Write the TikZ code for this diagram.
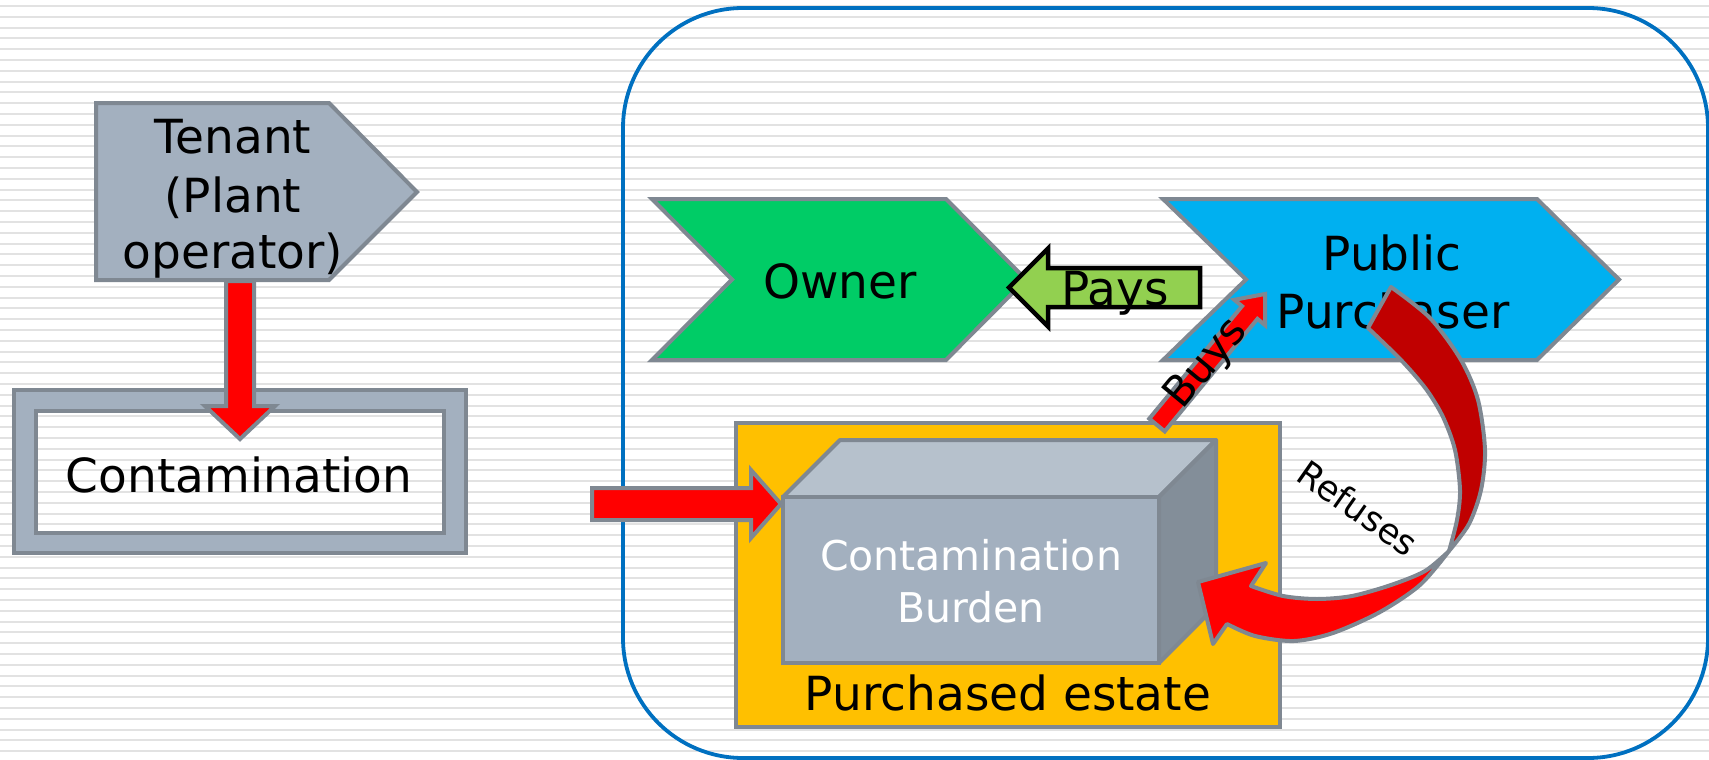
\documentclass[tikz,border=0pt]{standalone}
\usepackage{fontspec}
\setmainfont{DejaVu Sans}
\usetikzlibrary{calc}
\definecolor{bgline}{RGB}{226,226,226}
\definecolor{edgegray}{RGB}{127,136,146}
\definecolor{slate}{RGB}{163,176,191}
\definecolor{slatelight}{RGB}{182,193,204}
\definecolor{slatedark}{RGB}{131,142,153}
\definecolor{ownergreen}{RGB}{0,204,102}
\definecolor{ppblue}{RGB}{0,176,240}
\definecolor{paygreen}{RGB}{146,208,80}
\definecolor{estatecol}{RGB}{255,192,0}
\definecolor{darkredcol}{RGB}{192,0,0}
\definecolor{frameblue}{RGB}{0,112,192}
% block arrow: #1 style, #2 from, #3 to, #4 shaft half width, #5 head half width, #6 head length
\newcommand{\blockarr}[6]{%
  \coordinate (hb-#2) at ($(#3)!#6!(#2)$);
  \draw[#1] ($(#2)!#4!90:(#3)$) -- ($(hb-#2)!#4!90:(#3)$) -- ($(hb-#2)!#5!90:(#3)$) -- (#3)
    -- ($(hb-#2)!#5!-90:(#3)$) -- ($(hb-#2)!#4!-90:(#3)$) -- ($(#2)!#4!-90:(#3)$) -- cycle;
}
\begin{document}
\begin{tikzpicture}[x=1pt,y=-1pt,
  stripe/.style={bgline,line width=2pt},
  shapebox/.style={draw=edgegray,line width=4pt},
  redarrow/.style={fill=red,draw=edgegray,line width=4pt},
  payarrow/.style={fill=paygreen,draw=black,line width=4.5pt},
  txt/.style={inner sep=0pt,anchor=base,font=\fontsize{47}{56}\selectfont},
  cubetxt/.style={inner sep=0pt,anchor=base,text=white,font=\fontsize{41}{50}\selectfont}]
\useasboundingbox (0,0) rectangle (1709,760);
% background stripes
\foreach \i in {0,...,69} \draw[stripe] (0,{6+10.8*\i}) -- (1709,{6+10.8*\i});
% big frame
\draw[frameblue,line width=3.8pt,rounded corners=120pt] (623,8) rectangle (1708,758);
% contamination frame
\draw[shapebox,fill=slate,even odd rule] (14,390) rectangle (466,553) (36,411) rectangle (444,533);
\node[txt] (contam) at (239,492) {Contamination};
% tenant
\draw[shapebox,fill=slate] (96,103) -- (329,103) -- (417,192) -- (329,280) -- (96,280) -- cycle;
\node[txt] (tenant1) at (233,153) {Tenant};
\node[txt] (tenant2) at (233,212) {(Plant};
\node[txt] (tenant3) at (233,268) {operator)};
\coordinate (ta) at (240,281);
\coordinate (tb) at (240,439);
\blockarr{redarrow}{ta}{tb}{14pt}{35pt}{33pt}
% owner
\draw[shapebox,fill=ownergreen] (652,199) -- (946,199) -- (1026,279.5) -- (946,360) -- (652,360) -- (732,279.5) -- cycle;
\node[txt] (owner) at (840,298) {Owner};
% public purchaser
\draw[shapebox,fill=ppblue] (1163,199) -- (1537,199) -- (1619,279.5) -- (1537,360) -- (1163,360) -- (1246,279.5) -- cycle;
\node[txt] (pp1) at (1392,270) {Public};
\node[txt] (pp2) at (1393,328) {Purchaser};
% purchased estate
\draw[shapebox,fill=estatecol] (736,423) rectangle (1280,727);
\node[txt] (estate) at (1008,710) {Purchased estate};
% cube
\draw[shapebox,fill=slatelight,line join=round] (783,497) -- (840,440) -- (1216,440) -- (1159,497) -- cycle;
\draw[shapebox,fill=slatedark,line join=round] (1159,497) -- (1216,440) -- (1216,606) -- (1159,663) -- cycle;
\draw[shapebox,fill=slate] (783,497) rectangle (1159,663);
\node[cubetxt] (burden1) at (971,570) {Contamination};
\node[cubetxt] (burden2) at (971,622) {Burden};
% arrow into the estate
\coordinate (ia) at (592,504);
\coordinate (ib) at (781,504);
\blockarr{redarrow}{ia}{ib}{16pt}{34pt}{30pt}
% pays arrow
\coordinate (pa) at (1200,287.5);
\coordinate (pb) at (1009,287.5);
\blockarr{payarrow}{pa}{pb}{19.5pt}{39pt}{39pt}
\node[txt] (pays) at (1115,305) {Pays};
% buys arrow
\coordinate (ba) at (1157,425);
\coordinate (bb) at (1265,294);
\blockarr{redarrow}{ba}{bb}{10pt}{20pt}{24pt}
\node[inner sep=0pt,rotate=50.4,font=\fontsize{42}{50}\selectfont] (buys) at (1207,364) {Buys};
% refuses curved arrow
\coordinate (twist) at (1449,551);
\filldraw[draw=edgegray,line width=4pt,fill=darkredcol,line join=round]
  plot[smooth] coordinates {(1391,287) (1430,318) (1461,360) (1478,400) (1485,450) (1481,490) (1469,524) (twist)}
  -- plot[smooth] coordinates {(twist) (1457,520) (1460,490) (1455,450) (1443,417) (1426,389) (1401,360) (1368,328)}
  -- cycle;
\filldraw[draw=edgegray,line width=4pt,fill=red,line join=round]
  plot[smooth] coordinates {(twist) (1425,571) (1391,585) (1352,596) (1317,599) (1283,596) (1251,586)}
  -- (1266,563) -- (1198,582) -- (1213,644) -- (1227,624)
  -- plot[smooth] coordinates {(1227,624) (1255,636) (1294,641) (1333,633) (1380,612) (1420,585) (twist)}
  -- cycle;
\node[inner sep=0pt,rotate=-35,font=\fontsize{35}{42}\selectfont] (refuses) at (1358,508) {Refuses};
\end{tikzpicture}
\end{document}
